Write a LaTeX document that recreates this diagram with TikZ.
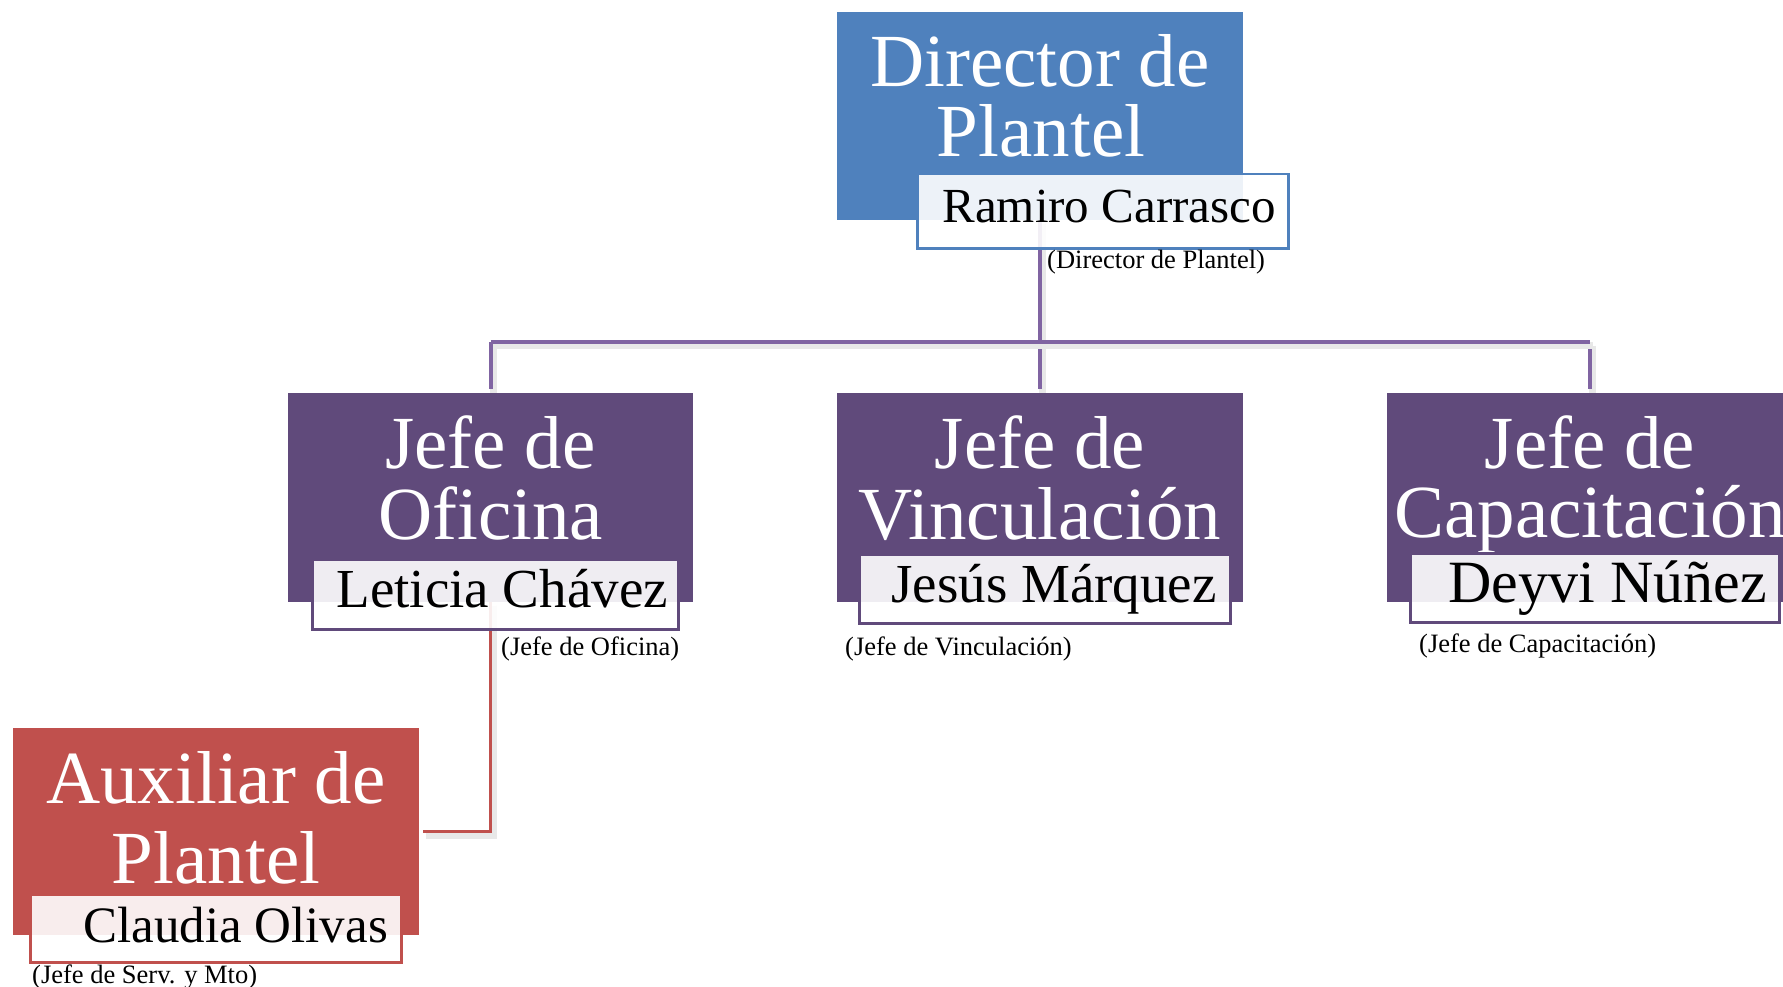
\documentclass[tikz,border=0pt]{standalone}
\usepackage{fontspec}
\setmainfont{Liberation Serif}
\usetikzlibrary{backgrounds}
\definecolor{dirblue}{HTML}{4F81BD}
\definecolor{jefepurple}{HTML}{604A7B}
\definecolor{linkpurple}{HTML}{8064A2}
\definecolor{auxred}{HTML}{C0504D}
\tikzset{
  titlebox/.style={fill=#1, draw=none, inner sep=0, anchor=north west, minimum width=406, minimum height=209},
  namebox/.style={fill=white, fill opacity=0.9, draw=#1, line width=2.5, inner sep=0, anchor=north west},
  titletext/.style={text=white, inner sep=0, anchor=base, font=\fontsize{75}{75}\selectfont},
  nametext/.style={text=black, inner sep=0, anchor=base east},
  rolelabel/.style={text=black, inner sep=0, anchor=base west, font=\fontsize{26.5}{26.5}\selectfont},
  link/.style={draw=#1, line width=4,
    preaction={draw=black!9, line width=7, transform canvas={xshift=2.5pt,yshift=-3.5pt}}},
}
\begin{document}
\begin{tikzpicture}[x=1pt, y=-1pt]
\useasboundingbox (0,0) rectangle (1783,987);
\clip (0,0) rectangle (1783,987);

% title boxes
\path (837,12) node[titlebox=dirblue, minimum height=208] (dir) {};
\path (288,393) node[titlebox=jefepurple, minimum width=405] (ofi) {};
\path (837,393) node[titlebox=jefepurple] (vin) {};
\path (1387,393) node[titlebox=jefepurple] (cap) {};
\path (13,728) node[titlebox=auxred, minimum height=207] (aux) {};

% title texts
\node[titletext] (dirT1) at (1040,87) {Director de};
\node[titletext] (dirT2) at (1041,157) {Plantel};
\node[titletext] (ofiT1) at (490.5,468) {Jefe de};
\node[titletext] (ofiT2) at (490.5,539) {Oficina};
\node[titletext] (vinT1) at (1040,468) {Jefe de};
\node[titletext] (vinT2) at (1040,539) {Vinculación};
\node[titletext] (capT1) at (1590,468) {Jefe de};
\node[titletext] (capT2) at (1590,537) {Capacitación};
\node[titletext] (auxT1) at (216,803) {Auxiliar de};
\node[titletext] (auxT2) at (216,883) {Plantel};

% name boxes
\path (916,173) node[namebox=dirblue, minimum width=371, minimum height=74] (dirN) {};
\path (311,558) node[namebox=jefepurple, minimum width=366, minimum height=70] (ofiN) {};
\path (858,553) node[namebox=jefepurple, minimum width=371, minimum height=69] (vinN) {};
\path (1409,552) node[namebox=jefepurple, minimum width=369, minimum height=69] (capN) {};
\path (29,893) node[namebox=auxred, minimum width=371, minimum height=68] (auxN) {};

% names
\node[nametext, font=\fontsize{49}{49}\selectfont] (dirName) at (1276,223) {Ramiro Carrasco};
\node[nametext, font=\fontsize{55}{55}\selectfont] (ofiName) at (668,607) {Leticia Chávez};
\node[nametext, font=\fontsize{55}{55}\selectfont] (vinName) at (1217,602) {Jesús Márquez};
\node[nametext, font=\fontsize{60}{60}\selectfont] (capName) at (1767,602) {Deyvi Núñez};
\node[nametext, font=\fontsize{51}{51}\selectfont] (auxName) at (388,942) {Claudia Olivas};

% role labels
\node[rolelabel] (dirRole) at (1047,268) {(Director de Plantel)};
\node[rolelabel] (ofiRole) at (501,655) {(Jefe de Oficina)};
\node[rolelabel] (vinRole) at (845,655) {(Jefe de Vinculación)};
\node[rolelabel] (capRole) at (1419,652) {(Jefe de Capacitación)};
\node[rolelabel] (auxRole) at (32,983) {(Jefe de Serv. y Mto)};

% connectors (behind everything)
\begin{pgfonlayer}{background}
  \fill[white] (0,0) rectangle (1783,987);
  \coordinate (bus) at (0,342);
  \draw[link=linkpurple] (dir.south) -- (dir.south |- bus);
  \draw[link=linkpurple, shorten >=4] (ofi.north |- bus) -- (ofi.north);
  \draw[link=linkpurple, shorten >=4] (vin.north |- bus) -- (vin.north);
  \draw[link=linkpurple, shorten >=4] (cap.north |- bus) -- (cap.north);
  \draw[link=linkpurple] (ofi.north |- bus) -- (cap.north |- bus);
  \draw[link=auxred, line width=3.5, shorten >=4] (ofi.south) |- (aux.east);
\end{pgfonlayer}
\end{tikzpicture}
\end{document}
